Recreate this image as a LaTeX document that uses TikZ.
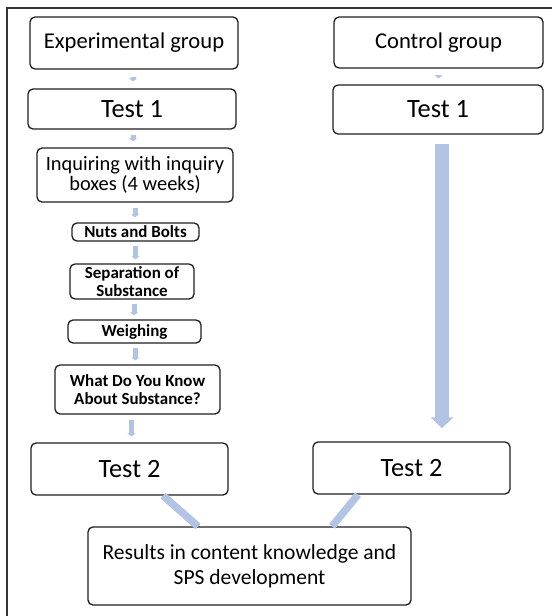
\documentclass[tikz,border=0pt]{standalone}
\usepackage{fontspec}
\setmainfont{Carlito}
\usetikzlibrary{arrows.meta}
\definecolor{arrowblue}{RGB}{178,195,228}
\definecolor{boxline}{RGB}{30,30,30}
\tikzset{
  box/.style={draw=boxline, line width=1.3bp, rounded corners=5bp, inner sep=0pt, align=center, text=black},
  small/.style={line width=5bp, draw=arrowblue, -{Triangle[width=8bp,length=3bp]}, shorten <=5bp, shorten >=5bp},
  bar/.style={line width=7.5bp, draw=arrowblue},
  frameline/.style={draw=black!80, line width=1.8bp}
}
\newcommand{\fsGroup}{\fontsize{22.7}{27}\selectfont}
\newcommand{\fsTest}{\fontsize{26.5}{30}\selectfont}
\newcommand{\fsInq}{\fontsize{20.5}{20.5}\selectfont}
\newcommand{\fsBold}{\fontsize{17}{18.5}\selectfont\bfseries}
\newcommand{\fsRes}{\fontsize{21.6}{25}\selectfont}
\begin{document}
\begin{tikzpicture}[x=1bp,y=-1bp]
\useasboundingbox (0,0) rectangle (552,616);
% frame
\draw[frameline] (552,8) -- (7,8) -- (7,616);
% left column
\node[box, minimum width=208bp, minimum height=52bp, font=\fsGroup] (exp) at (134,43) {Experimental group};
\node[box, minimum width=208bp, minimum height=40bp, font=\fsTest] (t1l) at (132,109) {Test 1};
\node[box, minimum width=196bp, minimum height=54bp, font=\fsInq] (inq) at (135,175) {Inquiring with inquiry\\boxes (4 weeks)};
\node[box, minimum width=127bp, minimum height=18bp, font=\fsBold] (nuts) at (135.5,232) {Nuts and Bolts};
\node[box, minimum width=124bp, minimum height=35bp, font=\fsBold] (sep) at (132,281.5) {Separation of\\Substance};
\node[box, minimum width=133bp, minimum height=23bp, font=\fsBold] (weigh) at (134.5,331.5) {Weighing};
\node[box, minimum width=165bp, minimum height=49bp, font=\fsBold] (what) at (137.5,389.5) {What Do You Know\\About Substance?};
\node[box, minimum width=197bp, minimum height=52bp, font=\fsTest] (t2l) at (129.5,469) {Test 2};
% right column
\node[box, minimum width=209bp, minimum height=51bp, font=\fsGroup] (ctrl) at (438.5,42.5) {Control group};
\node[box, minimum width=210bp, minimum height=49bp, font=\fsTest] (t1r) at (438,109.5) {Test 1};
\node[box, minimum width=197bp, minimum height=52bp, font=\fsTest] (t2r) at (411.5,468) {Test 2};
% results
\node[box, minimum width=323bp, minimum height=78bp, font=\fsRes] (res) at (249.5,566) {Results in content knowledge and\\SPS development};
% small arrows
\draw[small, shorten <=7bp, shorten >=7bp] ([xshift=-1bp]exp.south) -- ([xshift=-1bp]exp.south |- t1l.north);
\draw[small, shorten <=5bp, shorten >=6bp] ([xshift=1bp]t1l.south) -- ([xshift=1bp]t1l.south |- inq.north);
\draw[small] (inq.south) -- (inq.south |- nuts.north);
\draw[small, shorten <=4bp, shorten >=4bp] (nuts.south) -- (nuts.south |- sep.north);
\draw[small, shorten <=4bp, shorten >=4bp] ([xshift=2bp]sep.south) -- ([xshift=2bp]sep.south |- weigh.north);
\draw[small, shorten <=4bp, shorten >=4bp] ([xshift=1bp]weigh.south) -- ([xshift=1bp]weigh.south |- what.north);
\draw[small, shorten <=5bp, shorten >=6bp] ([xshift=-6bp]what.south) -- ([xshift=-6bp]what.south |- t2l.north);
\draw[small, shorten <=6bp, shorten >=6bp] (ctrl.south) -- (ctrl.south |- t1r.north);
% big arrow
\draw[line width=14bp, draw=arrowblue, -{Triangle[width=22bp,length=11bp]}, shorten <=9bp, shorten >=13bp] ([xshift=4bp]t1r.south) -- ([xshift=4bp]t1r.south |- t2r.north);
% diagonal bars
\draw[bar] ([xshift=33.5bp]t2l.south) -- ([xshift=-51.5bp]res.north);
\draw[bar] ([xshift=-53.5bp]t2r.south) -- ([xshift=82.5bp]res.north);
\end{tikzpicture}
\end{document}
